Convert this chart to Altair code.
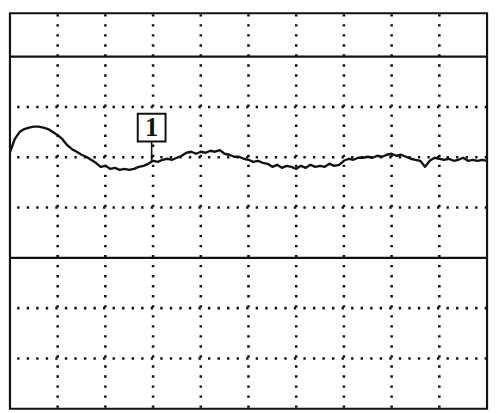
import altair as alt
import pandas as pd

# Oscilloscope screen, values in screen divisions (10 x 8 div, top row cropped)
trace_time = [0.0, 0.1, 0.2, 0.3, 0.4, 0.5, 0.6, 0.7, 0.8, 0.9,
              1.0, 1.1, 1.2, 1.3, 1.4, 1.5, 1.6, 1.7, 1.8, 1.9,
              2.0, 2.1, 2.2, 2.3, 2.4, 2.5, 2.6, 2.7, 2.8, 2.9,
              3.0, 3.1, 3.2, 3.3, 3.4, 3.5, 3.6, 3.7, 3.8, 3.9,
              4.0, 4.1, 4.2, 4.3, 4.4, 4.5, 4.6, 4.7, 4.8, 4.9,
              5.0, 5.1, 5.2, 5.3, 5.4, 5.5, 5.6, 5.7, 5.8, 5.9,
              6.0, 6.1, 6.2, 6.3, 6.4, 6.5, 6.6, 6.7, 6.8, 6.9,
              7.0, 7.1, 7.2, 7.3, 7.4, 7.5, 7.6, 7.7, 7.8, 7.9,
              8.0, 8.1, 8.2, 8.3, 8.4, 8.5, 8.6, 8.7, 8.8, 8.9,
              9.0, 9.1, 9.2, 9.3, 9.4, 9.5, 9.6, 9.7, 9.8, 9.9, 10.0]
trace_level = [5.10, 5.36, 5.50, 5.56, 5.59, 5.61, 5.61, 5.59, 5.56, 5.50,
               5.44, 5.36, 5.24, 5.16, 5.11, 5.05, 5.01, 4.95, 4.89, 4.81,
               4.83, 4.77, 4.79, 4.75, 4.77, 4.75, 4.77, 4.81, 4.83, 4.87,
               4.93, 4.91, 4.95, 4.97, 4.95, 4.99, 5.03, 5.09, 5.11, 5.07,
               5.11, 5.09, 5.13, 5.11, 5.14, 5.07, 5.05, 5.01, 5.01, 4.97,
               4.95, 4.91, 4.93, 4.89, 4.87, 4.81, 4.85, 4.79, 4.83, 4.81,
               4.77, 4.83, 4.79, 4.85, 4.81, 4.83, 4.81, 4.87, 4.83, 4.85,
               4.93, 4.97, 4.95, 4.99, 4.99, 5.01, 4.99, 5.03, 5.01, 5.05,
               5.07, 5.03, 5.05, 5.01, 4.97, 4.95, 4.93, 4.81, 4.93, 4.99,
               4.97, 4.95, 4.97, 4.93, 4.95, 4.99, 4.93, 4.95, 4.93, 4.95, 4.93]

v_grid = [1, 2, 3, 4, 5, 6, 7, 8, 9]
h_grid_dotted = [1, 2, 4, 5, 6]
h_grid_solid = [3, 7]

marker_time = [2.97]
marker_label = ["1"]
marker_box_level = [5.59]
marker_stem_top = [5.32]
marker_stem_bottom = [4.91]

X_DOMAIN = [0, 10]
Y_DOMAIN = [0, 7.863]

xs = alt.Scale(domain=X_DOMAIN, nice=False, zero=False)
ys = alt.Scale(domain=Y_DOMAIN, nice=False, zero=False)

trace_df = pd.DataFrame({"t": trace_time, "v": trace_level})
vg_df = pd.DataFrame({"t": v_grid})
hg_df = pd.DataFrame({"v": h_grid_dotted})
hs_df = pd.DataFrame({"v": h_grid_solid})
mk_df = pd.DataFrame({"t": marker_time, "label": marker_label,
                      "box": marker_box_level, "top": marker_stem_top,
                      "bottom": marker_stem_bottom})

vgrid = alt.Chart(vg_df).mark_rule(
    color="#111", strokeWidth=2.6, strokeDash=[2.4, 7.8], strokeDashOffset=9.3
).encode(x=alt.X("t:Q", scale=xs, axis=None))

hgrid = alt.Chart(hg_df).mark_rule(
    color="#111", strokeWidth=2.6, strokeDash=[2.4, 7.3]
).encode(y=alt.Y("v:Q", scale=ys, axis=None))

hsolid = alt.Chart(hs_df).mark_rule(
    color="#111", strokeWidth=2.2
).encode(y=alt.Y("v:Q", scale=ys, axis=None))

trace = alt.Chart(trace_df).mark_line(
    color="#111", strokeWidth=2.4, strokeJoin="round"
).encode(
    x=alt.X("t:Q", scale=xs, axis=None),
    y=alt.Y("v:Q", scale=ys, axis=None),
)

stem = alt.Chart(mk_df).mark_rule(color="#111", strokeWidth=1.6).encode(
    x=alt.X("t:Q", scale=xs, axis=None),
    y=alt.Y("top:Q", scale=ys, axis=None),
    y2="bottom:Q",
)

box = alt.Chart(mk_df).mark_square(
    size=800, fill="white", stroke="#111", strokeWidth=2, opacity=1
).encode(
    x=alt.X("t:Q", scale=xs, axis=None),
    y=alt.Y("box:Q", scale=ys, axis=None),
)

label = alt.Chart(mk_df).mark_text(
    font="Liberation Serif", fontSize=27, fontWeight="bold", color="#111",
    baseline="middle", align="center", dy=1
).encode(
    x=alt.X("t:Q", scale=xs, axis=None),
    y=alt.Y("box:Q", scale=ys, axis=None),
    text="label:N",
)

chart = alt.layer(vgrid, hgrid, hsolid, trace, stem, box, label).properties(
    width=485, height=402, padding=0, background="white"
).configure_view(stroke="#111", strokeWidth=2.2)

chart.save("out.html", embed_options={"renderer": "svg", "actions": False})
